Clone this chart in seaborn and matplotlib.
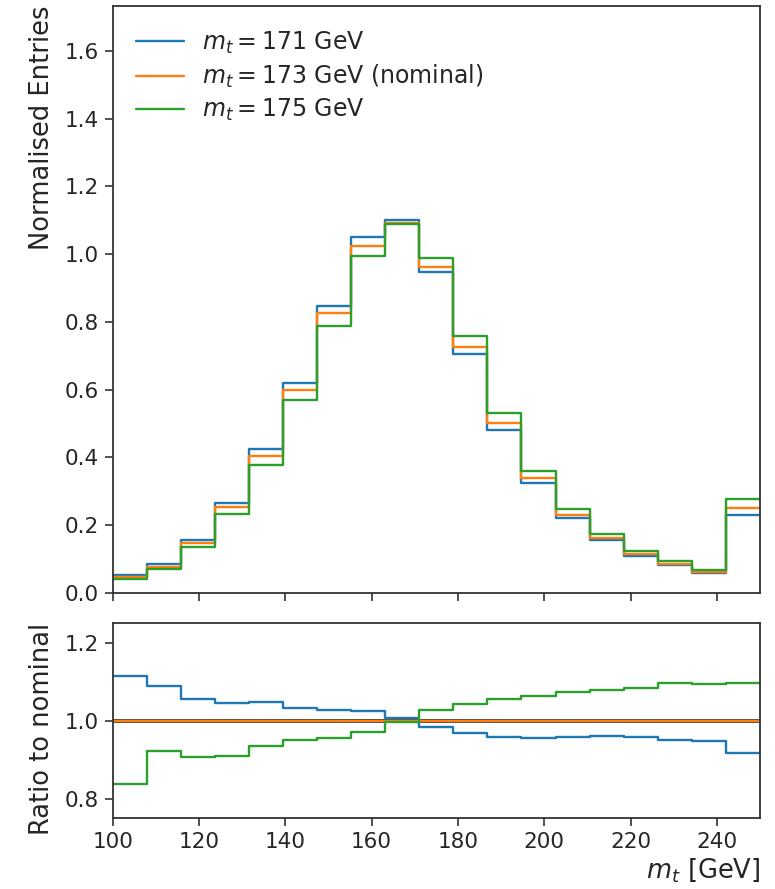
"""
Top-mass template comparison: m_t distributions for three mass points
plus ratio to the nominal sample.
"""

import numpy as np
import pandas as pd
import matplotlib
matplotlib.use("Agg")
import matplotlib.pyplot as plt
import seaborn as sns

# === Binning ===
BIN_LO, BIN_HI, N_BINS = 100, 250, 19

# === Normalised entries per bin ===
mt171 = [0.0524, 0.0839, 0.1563, 0.2654, 0.4238, 0.6182, 0.8481, 1.0506, 1.0997, 0.9486,
         0.7037, 0.4814, 0.3231, 0.2203, 0.1547, 0.1092, 0.0808, 0.0578, 0.2302]
mt173 = [0.047, 0.077, 0.148, 0.254, 0.404, 0.599, 0.825, 1.024, 1.091, 0.963,
         0.727, 0.502, 0.338, 0.230, 0.161, 0.114, 0.085, 0.061, 0.251]
mt175 = [0.0394, 0.0711, 0.1344, 0.2311, 0.3781, 0.5696, 0.7887, 0.9933, 1.0877, 0.9890,
         0.7590, 0.5301, 0.3596, 0.2468, 0.1739, 0.1237, 0.0932, 0.0668, 0.2756]

labels = [r"$m_t = 171$ GeV", r"$m_t = 173$ GeV (nominal)", r"$m_t = 175$ GeV"]
colors = ["#1f77b4", "#ff7f0e", "#2ca02c"]


def build_frame():
    edges = np.linspace(BIN_LO, BIN_HI, N_BINS + 1)
    centers = 0.5 * (edges[:-1] + edges[1:])
    nominal = np.array(mt173)
    rows = []
    for label, vals in zip(labels, [mt171, mt173, mt175]):
        vals = np.array(vals)
        rows.append(pd.DataFrame({
            "mt": centers,
            "entries": vals,
            "ratio": vals / nominal,
            "sample": label,
        }))
    return pd.concat(rows, ignore_index=True), list(edges)


def main():
    df, edges = build_frame()

    sns.set_style("ticks")
    plt.rcParams["font.family"] = ["DejaVu Sans"]
    plt.rcParams["mathtext.fontset"] = "dejavusans"

    fig = plt.figure(figsize=(7.75, 8.89), dpi=100)
    ax_top = fig.add_axes([0.1454, 0.3333, 0.8352, 0.6600])
    ax_r = fig.add_axes([0.1454, 0.0795, 0.8352, 0.2194], sharex=ax_top)

    for label, color in zip(labels, colors):
        sub = df[df["sample"] == label]
        sns.histplot(data=sub, x="mt", weights="entries", bins=edges, element="step",
                     fill=False, color=color, linewidth=1.7, label=label, ax=ax_top)

    ax_r.axhline(1.0, color="0.25", linewidth=2.8, zorder=1)
    for label, color in zip(labels, colors):
        sub = df[df["sample"] == label]
        sns.histplot(data=sub, x="mt", weights="ratio", bins=edges, element="step",
                     fill=False, color=color, linewidth=1.7, ax=ax_r, zorder=2)

    # Top panel
    ax_top.set_xlim(BIN_LO, BIN_HI)
    ax_top.set_ylim(0, 1.733)
    ax_top.set_yticks(np.arange(0, 1.61, 0.2))
    ax_top.set_ylabel("Normalised Entries", fontsize=18.5, labelpad=7, loc="top")
    ax_top.set_xlabel("")
    ax_top.tick_params(axis="x", labelbottom=False)
    ax_top.legend(loc="upper left", frameon=False, fontsize=17, labelspacing=0.3,
                  borderaxespad=0.6)

    # Ratio panel
    ax_r.set_ylim(0.75, 1.25)
    ax_r.set_yticks([0.8, 1.0, 1.2])
    ax_r.set_xticks(np.arange(100, 241, 20))
    ax_r.set_ylabel("Ratio to nominal", fontsize=18.5, labelpad=7, loc="top")
    ax_r.set_xlabel(r"$m_t$ [GeV]", fontsize=18.5, loc="right", labelpad=3)

    for ax in (ax_top, ax_r):
        for side in ["top", "right", "left", "bottom"]:
            ax.spines[side].set_visible(True)
            ax.spines[side].set_color("0.2")
            ax.spines[side].set_linewidth(1.3)
        ax.tick_params(labelsize=15.5, length=6, width=1.2, pad=4,
                       color="0.2", labelcolor="0.15")

    fig.savefig("out.png", dpi=100)
    plt.close(fig)


if __name__ == "__main__":
    main()
